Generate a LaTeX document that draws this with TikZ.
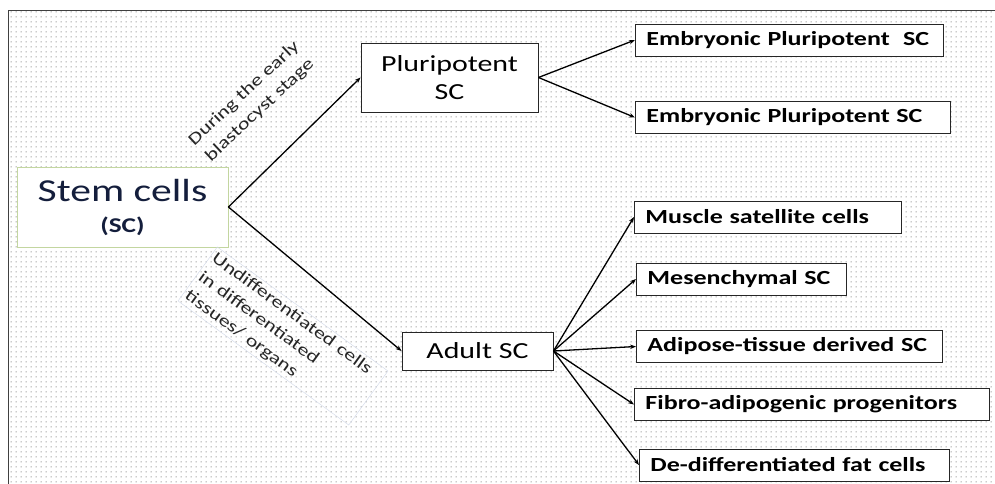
\documentclass[tikz,border=0pt]{standalone}
\usepackage{fontspec}
\setmainfont{Carlito}[FakeStretch=1.3]
\usetikzlibrary{arrows.meta,patterns.meta}
\definecolor{stemedge}{RGB}{195,214,160}
\definecolor{stemtext}{RGB}{20,30,60}
\definecolor{noteedge}{RGB}{208,216,232}
\tikzdeclarepattern{name=bgdots, type=uncolored,
  bounding box={(0pt,0pt) and (4.6pt,4.6pt)}, tile size={(4.6pt,4.6pt)},
  code={\fill (2.3pt,2.3pt) circle (0.8pt);}}
\tikzset{
  box/.style={draw=black!85, fill=white, line width=0.9pt, inner sep=0pt},
  leaf/.style={box, anchor=west, align=left, inner xsep=11pt, minimum height=32pt,
    font=\fontsize{20}{24}\selectfont\bfseries},
  arr/.style={-{Stealth[length=6pt,width=4.5pt]}, line width=1.3pt},
  lbl/.style={font=\fontsize{17}{23}\selectfont, text=black!85},
}
\begin{document}
\begin{tikzpicture}[x=1pt,y=-1pt]
\useasboundingbox (0,0) rectangle (995,484);
\fill [white] (0,0) rectangle (995,484);
\fill [pattern=bgdots, pattern color=black!40] (8,10) rectangle (995,484);
\draw [black!75, line width=0.8pt] (995,10) -- (8,10) -- (8,484);
% main boxes
\node [draw=stemedge, fill=white, line width=0.8pt, minimum width=211pt, minimum height=80pt,
  align=center, text=stemtext, font=\fontsize{32}{31}\selectfont] (stem) at (122.5,207)
  {Stem cells\\{\fontsize{21}{24}\selectfont\bfseries (SC)}};
\node [box, minimum width=177pt, minimum height=69pt, align=center,
  font=\fontsize{23}{28}\selectfont] (pluri) at (449.5,77.5) {Pluripotent\\SC};
\node [box, minimum width=151pt, minimum height=38pt,
  font=\fontsize{23}{28}\selectfont] (adult) at (477.5,351) {Adult SC};
% labels on the two branches
\node [lbl, rotate=43, align=center] (early) at (252,102) {During the early\\blastocyst stage};
\node [lbl, draw=noteedge, rotate=-36, align=left, text width=205pt, inner sep=3pt] (undiff)
  at (283,336) {Undifferentiated cells\\in differentiated\\tissues/ organs};
% pluripotent branch
\node [leaf, text width=286pt] (emb1) at (635,40) {Embryonic Pluripotent\ \ SC};
\node [leaf, text width=293pt] (emb2) at (635,117.5) {Embryonic Pluripotent SC};
% adult branch
\node [leaf, text width=245pt] (muscle) at (634,217) {Muscle satellite cells};
\node [leaf, text width=188pt] (mesen) at (636,279) {Mesenchymal SC};
\node [leaf, text width=284pt] (adipose) at (636,346.5) {Adipose-tissue derived SC};
\node [leaf, text width=333pt] (fibro) at (634,404.5) {Fibro-adipogenic progenitors};
\node [leaf, text width=288pt] (dediff) at (639,465) {De-differentiated fat cells};
\draw [arr] (stem.east) -- (pluri.west);
\draw [arr] (stem.east) -- (adult.west);
\draw [arr] (pluri.east) -- (emb1.west);
\draw [arr] (pluri.east) -- (emb2.west);
\foreach \t in {muscle,mesen,adipose,fibro,dediff}
  \draw [arr] (adult.east) -- (\t.west);
\end{tikzpicture}
\end{document}
